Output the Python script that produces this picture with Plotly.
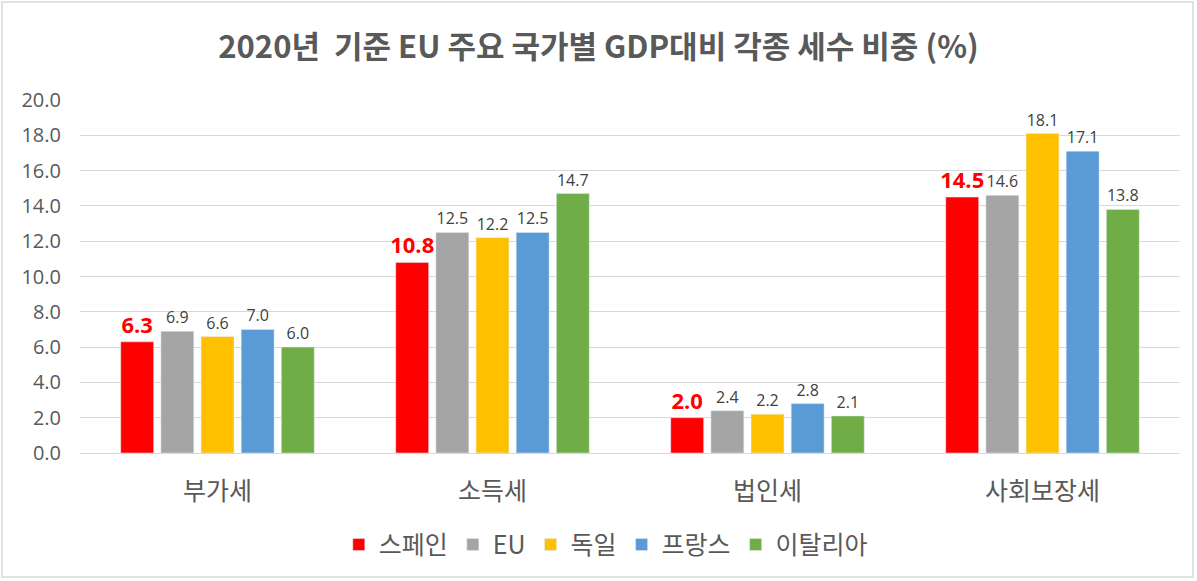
import plotly.graph_objects as go

categories = ["부가세", "소득세", "법인세", "사회보장세"]
series_names = ["스페인", "EU", "독일", "프랑스", "이탈리아"]
spain = [6.3, 10.8, 2.0, 14.5]
eu = [6.9, 12.5, 2.4, 14.6]
germany = [6.6, 12.2, 2.2, 18.1]
france = [7.0, 12.5, 2.8, 17.1]
italy = [6.0, 14.7, 2.1, 13.8]
colors = ["#FF0000", "#A5A5A5", "#FFC000", "#5B9BD5", "#70AD47"]
y_ticks = [0, 2, 4, 6, 8, 10, 12, 14, 16, 18, 20]

FONT = "Noto Sans CJK KR"
fig = go.Figure()
for i, (name, vals) in enumerate(zip(series_names, [spain, eu, germany, france, italy])):
    if i == 0:
        tf = dict(family="Open Sans", size=22, color="#FF0000", weight="bold")
    else:
        tf = dict(family="Open Sans", size=16, color="#404040")
    fig.add_trace(go.Bar(
        x=categories, y=vals, name=name,
        marker=dict(color=colors[i]),
        text=[f"{v:.1f}" for v in vals], textposition="outside",
        textfont=tf, cliponaxis=False, constraintext="none",
    ))

fig.update_layout(
    width=1197, height=581,
    margin=dict(l=80, r=17, t=100, b=128, autoexpand=False),
    paper_bgcolor="white", plot_bgcolor="white",
    barmode="group", bargap=0.27, bargroupgap=0.18,
    title=dict(text="<b>2020년  기준 EU 주요 국가별 GDP대비 각종 세수 비중 (%)</b>",
               x=0.5, xanchor="center", y=0.918, yanchor="middle",
               font=dict(family=FONT, size=31, color="#595959")),
    font=dict(family=FONT, color="#595959"),
    legend=dict(orientation="h", x=0.478, xanchor="center", y=-0.26, yanchor="middle",
                font=dict(family=FONT, size=25, color="#595959"),
                itemwidth=30, tracegroupgap=0),
    showlegend=True,
)
fig.update_xaxes(showline=True, linecolor="#D9D9D9", linewidth=1, automargin=False,
                 tickfont=dict(family=FONT, size=25, color="#595959"), ticks="",
                 ticklabelstandoff=16)
fig.update_yaxes(range=[0, 20], tickvals=y_ticks, ticktext=[f"{t:.1f}" for t in y_ticks],
                 showgrid=True, gridcolor="#D9D9D9", zeroline=False, automargin=False,
                 tickfont=dict(family="Open Sans", size=20, color="#595959"),
                 ticklabelstandoff=18)
fig.add_shape(type="rect", xref="paper", yref="paper",
              x0=-0.0709, x1=1.0118, y0=-0.351, y1=1.2776,
              line=dict(color="#D9D9D9", width=1.5))
fig.write_html("out.html", config={"displayModeBar": False},
               post_script="document.body.style.margin='0';document.body.style.overflow='hidden';")
